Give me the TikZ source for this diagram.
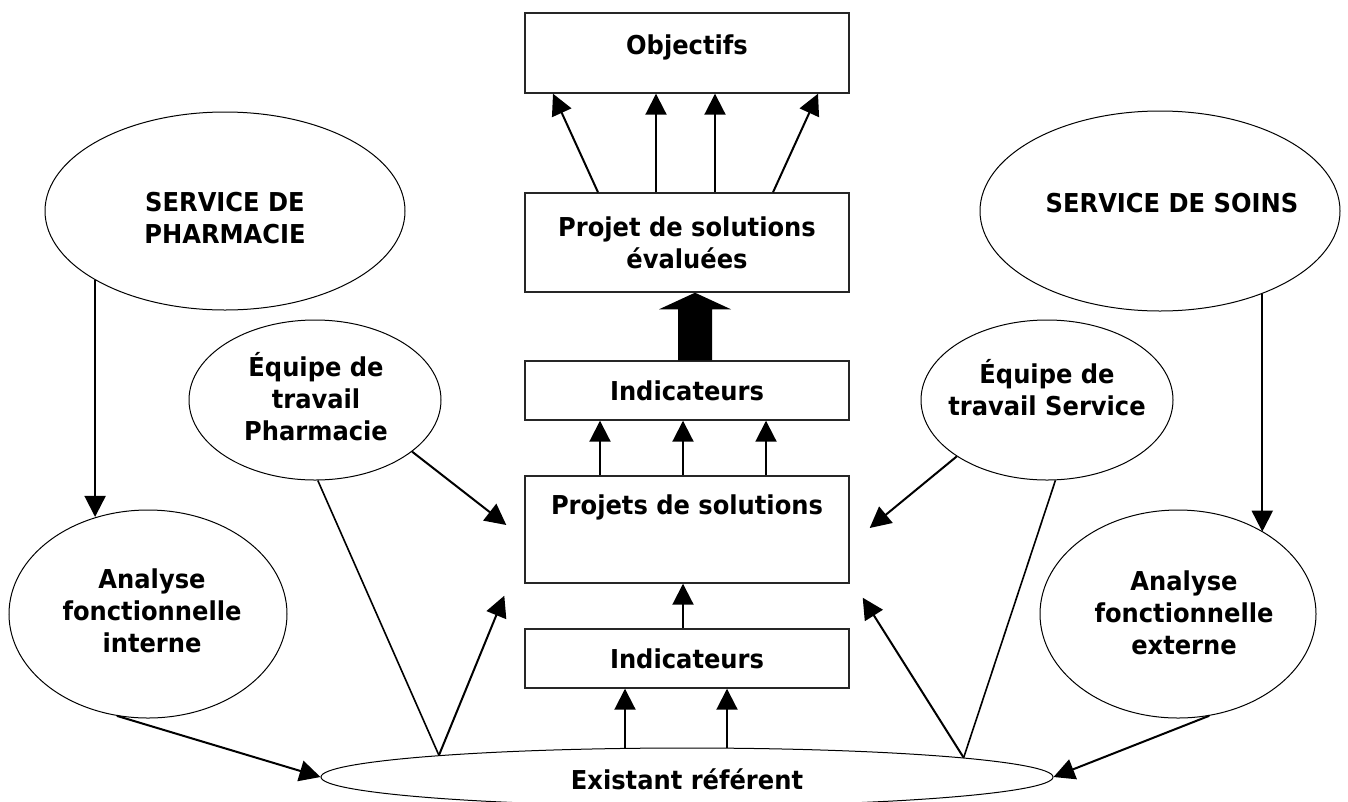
\documentclass[tikz,border=0pt]{standalone}
\usepackage{fontspec}
\setmainfont{DejaVu Sans}[FakeStretch=0.93]
\usetikzlibrary{shapes.geometric,arrows.meta,calc}

\begin{document}
\begin{tikzpicture}[x=1pt,y=-1pt,
  txt/.style={font=\bfseries\fontsize{26}{32}\selectfont, align=center, inner sep=0pt},
  box/.style={draw=black!85, line width=1.4pt, minimum width=324pt, inner sep=0pt, fill=white},
  oval/.style={ellipse, draw, line width=1pt, inner sep=0pt},
  arr/.style={line width=2pt, -{Triangle[length=21pt,width=21pt]}},
  link/.style={line width=1.6pt}]
\useasboundingbox (0,0) rectangle (1348,801);
\clip (0,0) rectangle (1348,801);

% central column of boxes
\node[box, minimum height=80pt] (obj) at (687,53) {};
\node[txt] (objT) at (687,47) {Objectifs};
\node[box, txt, minimum height=99pt] (eval) at (687,242.5) {Projet de solutions\\évaluées};
\node[box, txt, minimum height=59pt] (ind2) at (687,390.5) {Indicateurs};
\node[box, minimum height=107pt] (proj) at (687,529.5) {};
\node[txt] (projT) at (687,507) {Projets de solutions};
\node[box, txt, minimum height=59pt] (ind1) at (687,658.5) {Indicateurs};

% base ellipse
\node[oval, minimum width=732pt, minimum height=58pt] (exist) at (687,777) {};
\node[txt] (existT) at (687,779) {Existant référent};

% side ellipses
\node[oval, minimum width=360pt, minimum height=198pt] (pharm) at (225,211) {};
\node[txt] (pharmT) at (225,218) {SERVICE DE\\PHARMACIE};
\node[oval, minimum width=360pt, minimum height=200pt] (soins) at (1160,211) {};
\node[txt] (soinsT) at (1172,203) {SERVICE DE SOINS};
\node[oval, minimum width=252pt, minimum height=160pt] (eqph) at (315,400) {};
\node[txt] (eqphT) at (316,397) {Équipe de\\travail\\Pharmacie};
\node[oval, minimum width=252pt, minimum height=160pt] (eqsv) at (1047,400) {};
\node[txt] (eqsvT) at (1047,388) {Équipe de\\travail Service};
\node[oval, minimum width=278pt, minimum height=208pt] (aint) at (148,614) {};
\node[txt] (aintT) at (152,611) {Analyse\\fonctionnelle\\interne};
\node[oval, minimum width=276pt, minimum height=208pt] (aext) at (1178,614) {};
\node[txt] (aextT) at (1184,613) {Analyse\\fonctionnelle\\externe};

% services down to their functional analyses
\draw[arr] (pharm.208.2) -- (pharm.208.2 |- aint.118);
\draw[arr] (soins.321.5) -- (soins.321.5 |- aext.44);

% analyses into the reference
\draw[arr] (aint.253.5) -- (exist.west);
\draw[arr] (aext.287.6) -- (exist.east);

% work teams towards the solution projects
\draw[arr] (eqph.332) -- ([xshift=-18pt,yshift=4.5pt]proj.west);
\draw[arr] (eqsv.212) -- ([xshift=20pt,yshift=1.5pt]proj.east);
\draw[link] (eqph.272) -- (exist.175.2);
\draw[arr] (exist.175.2) -- ([xshift=-20pt,yshift=-12pt]proj.south west);
\draw[link] (eqsv.276) -- (exist.4.9);
\draw[arr] (exist.4.9) -- ([xshift=13pt,yshift=-14pt]proj.south east);

% reference -> indicators -> projects
\draw[arr] ([xshift=-62pt]exist.north) -- ([xshift=-62pt]ind1.south);
\draw[arr] ([xshift=40pt]exist.north) -- ([xshift=40pt]ind1.south);
\draw[arr] ([xshift=-4pt]ind1.north) -- ([xshift=-4pt]proj.south);

% projects -> indicators
\draw[arr] ([xshift=-87pt]proj.north) -- ([xshift=-87pt]ind2.south);
\draw[arr] ([xshift=-4pt]proj.north) -- ([xshift=-4pt]ind2.south);
\draw[arr] ([xshift=79pt]proj.north) -- ([xshift=79pt]ind2.south);

% broad arrow: indicators -> evaluated solutions
\fill ($(ind2.north)+(-9,0)$) -- ($(ind2.north)+(-9,-51)$) -- ($(ind2.north)+(-28,-51)$)
  -- ($(eval.south)+(8,0)$) -- ($(ind2.north)+(44,-51)$) -- ($(ind2.north)+(25,-51)$)
  -- ($(ind2.north)+(25,0)$) -- cycle;

% evaluated solutions -> objectives
\draw[arr] ([xshift=-89pt]eval.north) -- ([xshift=-134pt]obj.south);
\draw[arr] ([xshift=-31pt]eval.north) -- ([xshift=-31pt]obj.south);
\draw[arr] ([xshift=28pt]eval.north) -- ([xshift=28pt]obj.south);
\draw[arr] ([xshift=86pt]eval.north) -- ([xshift=131pt]obj.south);
\end{tikzpicture}
\end{document}
